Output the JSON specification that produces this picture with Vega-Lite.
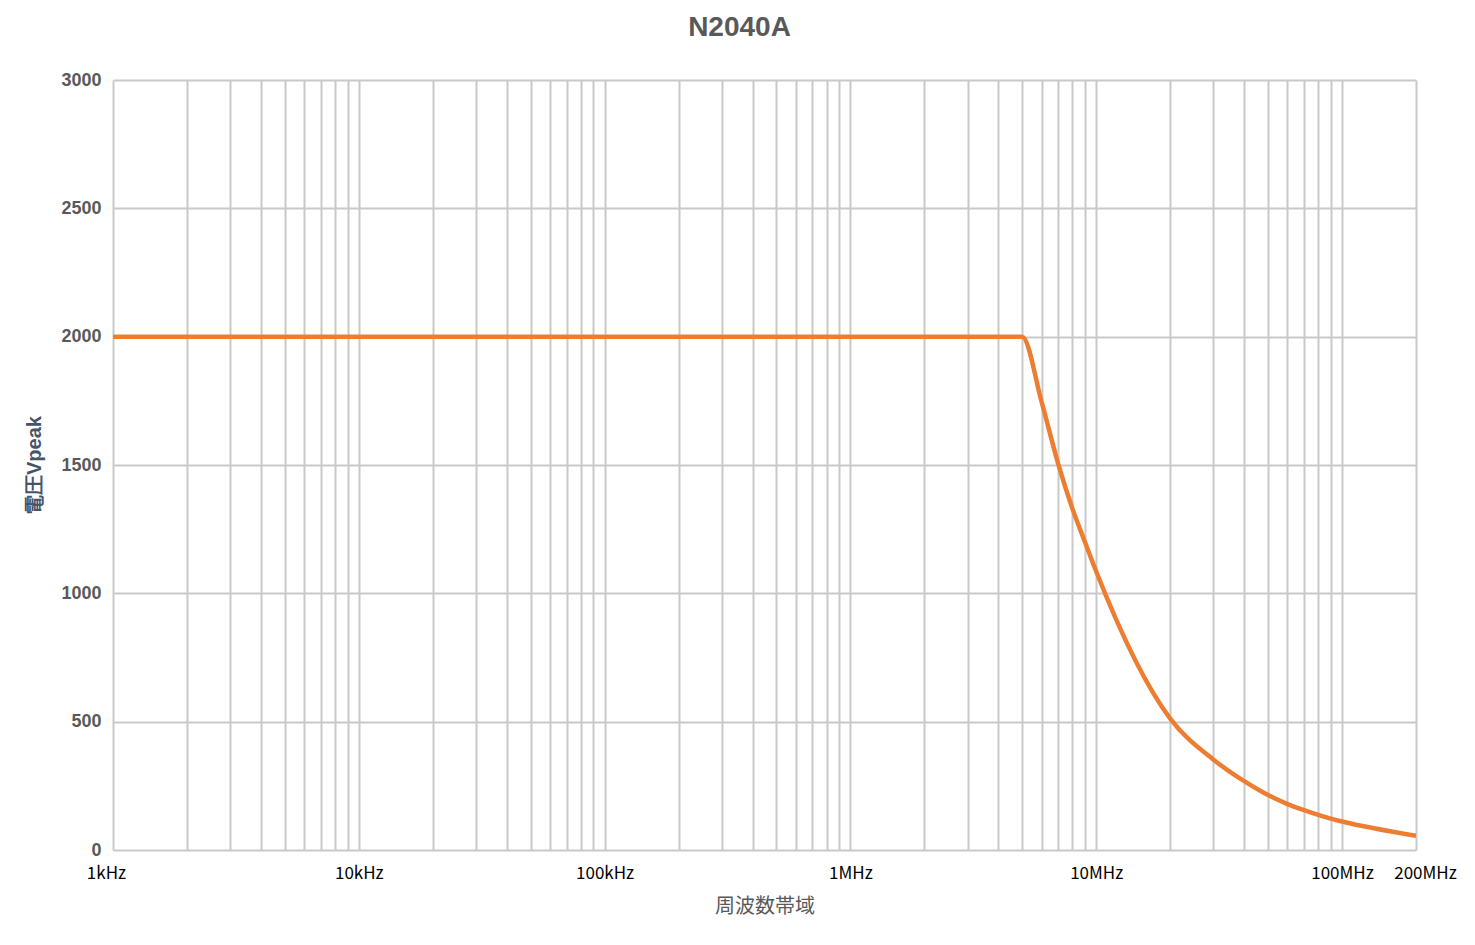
{
  "$schema": "https://vega.github.io/schema/vega-lite/v6.json",
  "width": 1303,
  "height": 770,
  "autosize": {"type": "none"},
  "padding": {"left": 113, "top": 80, "right": 59, "bottom": 95},
  "background": "white",
  "title": {
    "text": "N2040A",
    "font": "Liberation Sans",
    "fontSize": 28,
    "fontWeight": "bold",
    "color": "#595959",
    "anchor": "middle",
    "offset": 29,
    "dx": -25
  },
  "data": {
    "values": [
      {"freq": 1000, "v": 2000},
      {"freq": 10000, "v": 2000},
      {"freq": 100000, "v": 2000},
      {"freq": 1000000, "v": 2000},
      {"freq": 4000000, "v": 2000},
      {"freq": 5000000, "v": 2000},
      {"freq": 6000000, "v": 1745},
      {"freq": 7000000, "v": 1505},
      {"freq": 8000000, "v": 1330},
      {"freq": 9000000, "v": 1200},
      {"freq": 10000000, "v": 1085},
      {"freq": 20000000, "v": 512},
      {"freq": 30000000, "v": 352},
      {"freq": 40000000, "v": 268},
      {"freq": 50000000, "v": 214},
      {"freq": 60000000, "v": 179},
      {"freq": 70000000, "v": 155},
      {"freq": 80000000, "v": 137},
      {"freq": 90000000, "v": 122},
      {"freq": 100000000, "v": 111},
      {"freq": 200000000, "v": 55}
    ]
  },
  "mark": {"type": "line", "color": "#ED7D31", "strokeWidth": 4.5, "interpolate": "monotone", "clip": true},
  "encoding": {
    "x": {
      "field": "freq",
      "type": "quantitative",
      "scale": {"type": "log", "domain": [1000, 200000000], "nice": false},
      "axis": {
        "title": "周波数帯域",
        "titleFont": "Noto Sans CJK JP",
        "titleFontSize": 20,
        "titleFontWeight": "normal",
        "titleColor": "#595959",
        "titlePadding": 15,
        "values": [1000,2000,3000,4000,5000,6000,7000,8000,9000,10000,20000,30000,40000,50000,60000,70000,80000,90000,100000,200000,300000,400000,500000,600000,700000,800000,900000,1000000,2000000,3000000,4000000,5000000,6000000,7000000,8000000,9000000,10000000,20000000,30000000,40000000,50000000,60000000,70000000,80000000,90000000,100000000,200000000],
        "labelExpr": "datum.value == 1000 ? '1kHz' : datum.value == 10000 ? '10kHz' : datum.value == 100000 ? '100kHz' : datum.value == 1000000 ? '1MHz' : datum.value == 10000000 ? '10MHz' : datum.value == 100000000 ? '100MHz' : datum.value == 200000000 ? '200MHz' : ''",
        "labelOverlap": false,
        "labelFlush": false,
        "labelFont": "Noto Sans CJK JP",
        "labelFontSize": 17,
        "labelColor": "#000000",
        "labelPadding": 15,
        "labelOffset": {"condition": [{"test": "datum.value == 1000", "value": -7}, {"test": "datum.value == 200000000", "value": 9}], "value": 0},
        "ticks": false,
        "domain": false,
        "grid": true,
        "gridColor": "#c9c9c9",
        "gridWidth": 2
      }
    },
    "y": {
      "field": "v",
      "type": "quantitative",
      "scale": {"domain": [0, 3000], "nice": false},
      "axis": {
        "title": "電圧Vpeak",
        "titleFont": "Liberation Sans",
        "titleFontSize": 20,
        "titleFontWeight": "bold",
        "titleColor": "#44546A",
        "titlePadding": 16,
        "values": [0, 500, 1000, 1500, 2000, 2500, 3000],
        "format": "d",
        "labelFont": "Liberation Sans",
        "labelFontSize": 18,
        "labelFontWeight": "bold",
        "labelColor": "#595959",
        "labelPadding": 12,
        "ticks": false,
        "domain": false,
        "grid": true,
        "gridColor": "#c9c9c9",
        "gridWidth": 2
      }
    }
  },
  "config": {"view": {"stroke": null}}
}
